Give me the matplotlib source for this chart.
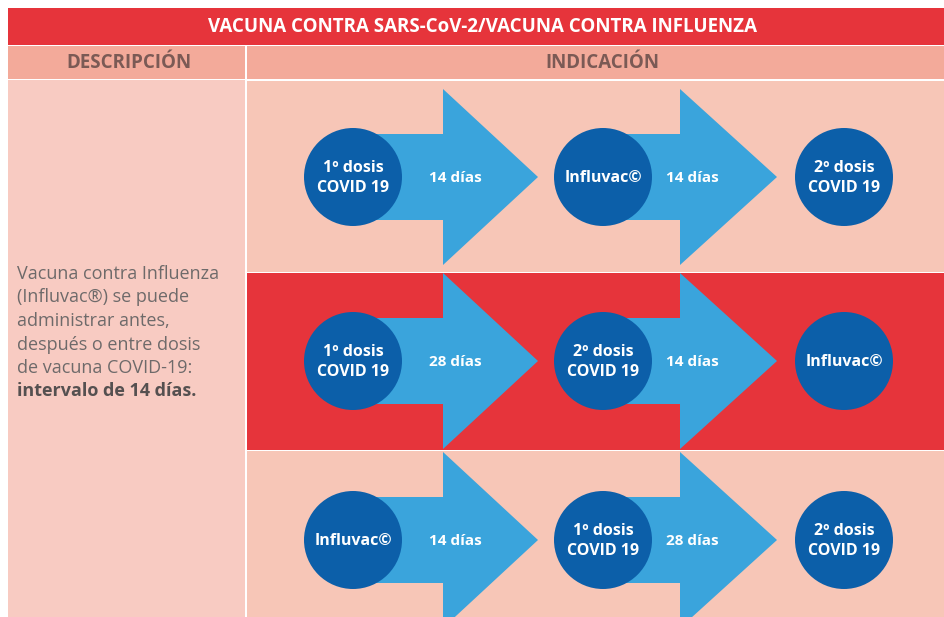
import matplotlib.pyplot as plt
from matplotlib.patches import Rectangle, Circle, Polygon

# Contents of the table
title = "VACUNA CONTRA SARS-CoV-2/VACUNA CONTRA INFLUENZA"
col_headers = ["DESCRIPCIÓN", "INDICACIÓN"]
desc_lines = ["Vacuna contra Influenza", "(Influvac®) se puede", "administrar antes,",
              "después o entre dosis", "de vacuna COVID-19:"]
desc_bold = "intervalo de 14 días."

steps = [
    ["1º dosis\nCOVID 19", "Influvac©", "2º dosis\nCOVID 19"],
    ["1º dosis\nCOVID 19", "2º dosis\nCOVID 19", "Influvac©"],
    ["Influvac©", "1º dosis\nCOVID 19", "2º dosis\nCOVID 19"],
]
intervals = [
    ["14 días", "14 días"],
    ["28 días", "14 días"],
    ["14 días", "28 días"],
]

# colours
red = "#e6343b"
salmon = "#f3aa9a"
pink_left = "#f8cbc2"
pink_right = "#f7c6b7"
arrow_blue = "#3aa4dc"
circle_blue = "#0c5fa9"
grey_text = "#6e6a6a"

W, H = 945, 617
fig = plt.figure(figsize=(W / 100, H / 100), dpi=100)
ax = fig.add_axes([0, 0, 1, 1])
ax.set_xlim(0, W)
ax.set_ylim(H, 0)
ax.axis("off")
fig.patch.set_facecolor("white")

left, split = 8, 245
top_title, top_head, top_body = 8, 45, 80
row_edges = [80, 272, 450, H]
row_centers = [177, 361, 540]
col_x = [353, 603, 844]
heads = [(443, 538), (680, 777)]
circle_r = 49
shaft_h, head_h = 43, 88

# title bar and header row
ax.add_patch(Rectangle((left, top_title), W - left, top_head - top_title, color=red, lw=0))
ax.add_patch(Rectangle((left, top_head + 1), split - left, top_body - top_head - 2, color=salmon, lw=0))
ax.add_patch(Rectangle((split + 2, top_head + 1), W - split - 2, top_body - top_head - 2, color=salmon, lw=0))
ax.text(W / 2 + 10, (top_title + top_head) / 2 + 1, title, color="white", fontsize=13.5,
        fontweight="bold", ha="center", va="center", family=["Open Sans", "DejaVu Sans"])
ax.text((left + split) / 2 + 2, (top_head + top_body) / 2, col_headers[0], color="#7b5a55",
        fontsize=13.5, fontweight="bold", ha="center", va="center",
        family=["Open Sans", "DejaVu Sans"])
ax.text((split + W) / 2 + 7, (top_head + top_body) / 2, col_headers[1], color="#7b5a55",
        fontsize=13.5, fontweight="bold", ha="center", va="center",
        family=["Open Sans", "DejaVu Sans"])

# body background
ax.add_patch(Rectangle((left, top_body), split - left, H - top_body, color=pink_left, lw=0))
for i in range(3):
    c = red if i == 1 else pink_right
    ax.add_patch(Rectangle((split + 2, row_edges[i] + 1), W - split - 2,
                           row_edges[i + 1] - row_edges[i] - 1, color=c, lw=0))

# description column
y0, dy = 274, 23.5
for k, line in enumerate(desc_lines):
    ax.text(17, y0 + k * dy, line, color=grey_text, fontsize=13, va="center", ha="left",
            family=["Open Sans", "DejaVu Sans"])
ax.text(17, y0 + len(desc_lines) * dy, desc_bold, color="#555050", fontsize=13,
        fontweight="bold", va="center", ha="left", family=["Open Sans", "DejaVu Sans"])

# arrows, circles and labels
for i, yc in enumerate(row_centers):
    for j, (xb, xt) in enumerate(heads):
        xs = col_x[j]
        pts = [(xs, yc - shaft_h), (xb, yc - shaft_h), (xb, yc - head_h), (xt, yc),
               (xb, yc + head_h), (xb, yc + shaft_h), (xs, yc + shaft_h)]
        ax.add_patch(Polygon(pts, closed=True, color=arrow_blue, lw=0, zorder=2))
        ax.text(xb + 12, yc + 1, intervals[i][j], color="white", fontsize=11,
                fontweight="bold", ha="center", va="center", zorder=4,
                family=["Open Sans", "DejaVu Sans"])
    for j, label in enumerate(steps[i]):
        ax.add_patch(Circle((col_x[j], yc), circle_r, color=circle_blue, lw=0, zorder=3))
        ax.text(col_x[j], yc + 1, label, color="white", fontsize=11.5, fontweight="bold",
                ha="center", va="center", linespacing=1.3, zorder=4,
                family=["Open Sans", "DejaVu Sans"])

fig.savefig("out.png", dpi=100)
